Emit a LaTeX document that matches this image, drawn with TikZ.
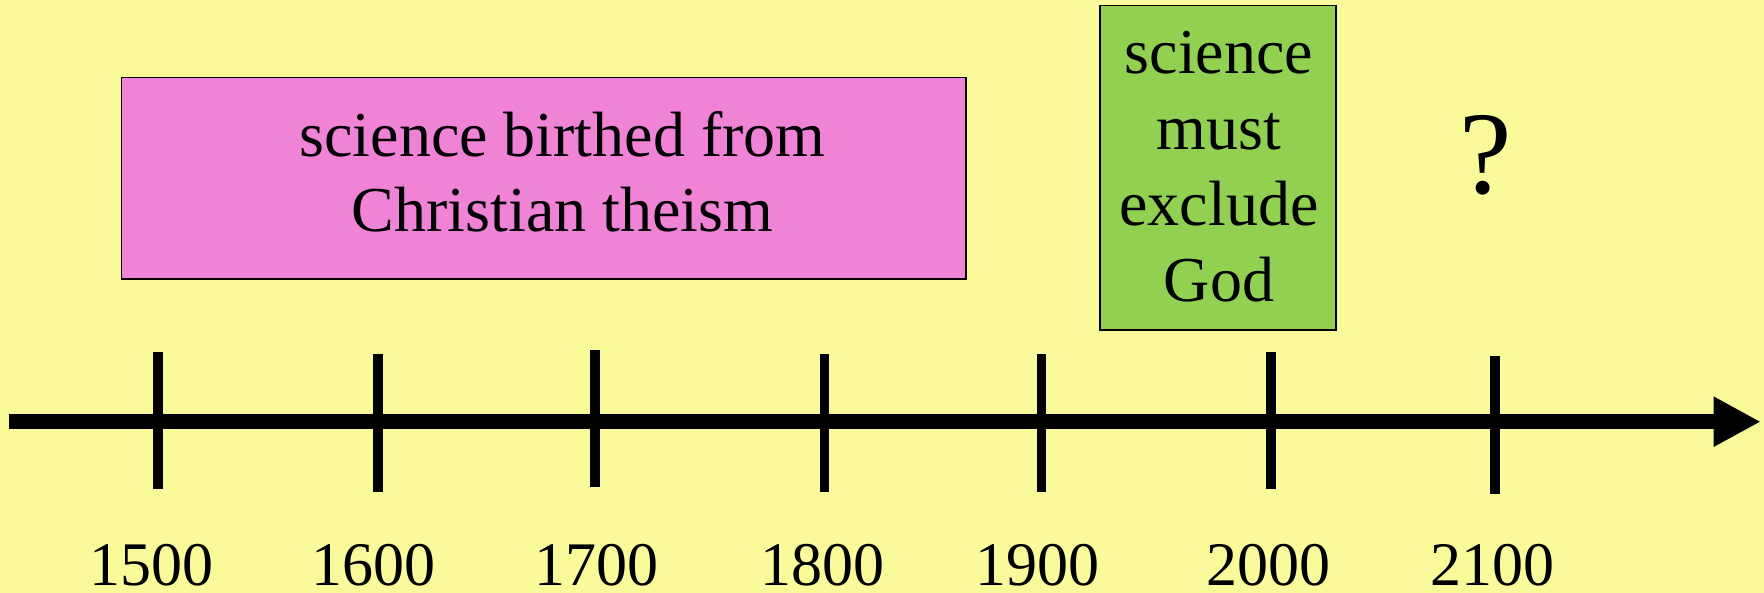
\documentclass[tikz,border=0pt]{standalone}
\usepackage{fontspec}
\setmainfont{Liberation Serif}
\usetikzlibrary{arrows.meta}
\definecolor{bgyellow}{RGB}{250,250,155}
\definecolor{boxpink}{RGB}{241,131,214}
\definecolor{boxgreen}{RGB}{146,208,82}
\tikzset{
  boxshape/.style={draw=black, line width=0.8pt, rectangle, inner sep=0pt},
  boxtext/.style={inner sep=0pt, align=center, anchor=base, font=\fontsize{32}{37.5}\selectfont},
  yeartext/.style={inner sep=0pt, anchor=base, font=\fontsize{31}{37.5}\selectfont},
  tickline/.style={line width=4.65pt},
  axisline/.style={line width=7.65pt, -{Triangle[length=23.5pt,width=23.5pt]}}
}
\begin{document}
\begin{tikzpicture}[x=0.5pt,y=-0.5pt]
\fill[bgyellow] (0,0) rectangle (1764,593);
\useasboundingbox (0,0) rectangle (1764,593);
% boxes
\node[boxshape, fill=boxpink, minimum width=422.25pt, minimum height=100.7pt] (pink) at (543.75,178.3) {};
\node[boxshape, fill=boxgreen, minimum width=118pt, minimum height=162.2pt] (green) at (1218,167.9) {};
\node[boxtext] (pinktext) at (562.5,231.7) {science birthed from\\Christian theism};
\node[boxtext, font=\fontsize{32}{38}\selectfont] (greentext) at (1219,301.7) {science\\must\\exclude\\God};
\node[inner sep=0pt, anchor=base, font=\fontsize{59}{70}\selectfont] (qmark) at (1486,193) {?};
% axis
\coordinate (axstart) at (9,421.7);
\coordinate (axend) at (1760.7,421.7);
\draw[axisline] (axstart) -- (axend);
% ticks and years
\foreach \n/\x/\t/\b/\lx in {1500/158/352/489/151, 1600/378/354/492/373, 1700/595/350/487/596, 1800/824.5/354/492/822, 1900/1041.5/354/492/1037, 2000/1271/352/489/1268, 2100/1495/355.5/494/1492}{
  \coordinate (t\n a) at (\x,\t);
  \coordinate (t\n b) at (\x,\b);
  \draw[tickline] (t\n a) -- (t\n b);
  \node[yeartext] (y\n) at (\lx,585) {\n};
}
\end{tikzpicture}
\end{document}
